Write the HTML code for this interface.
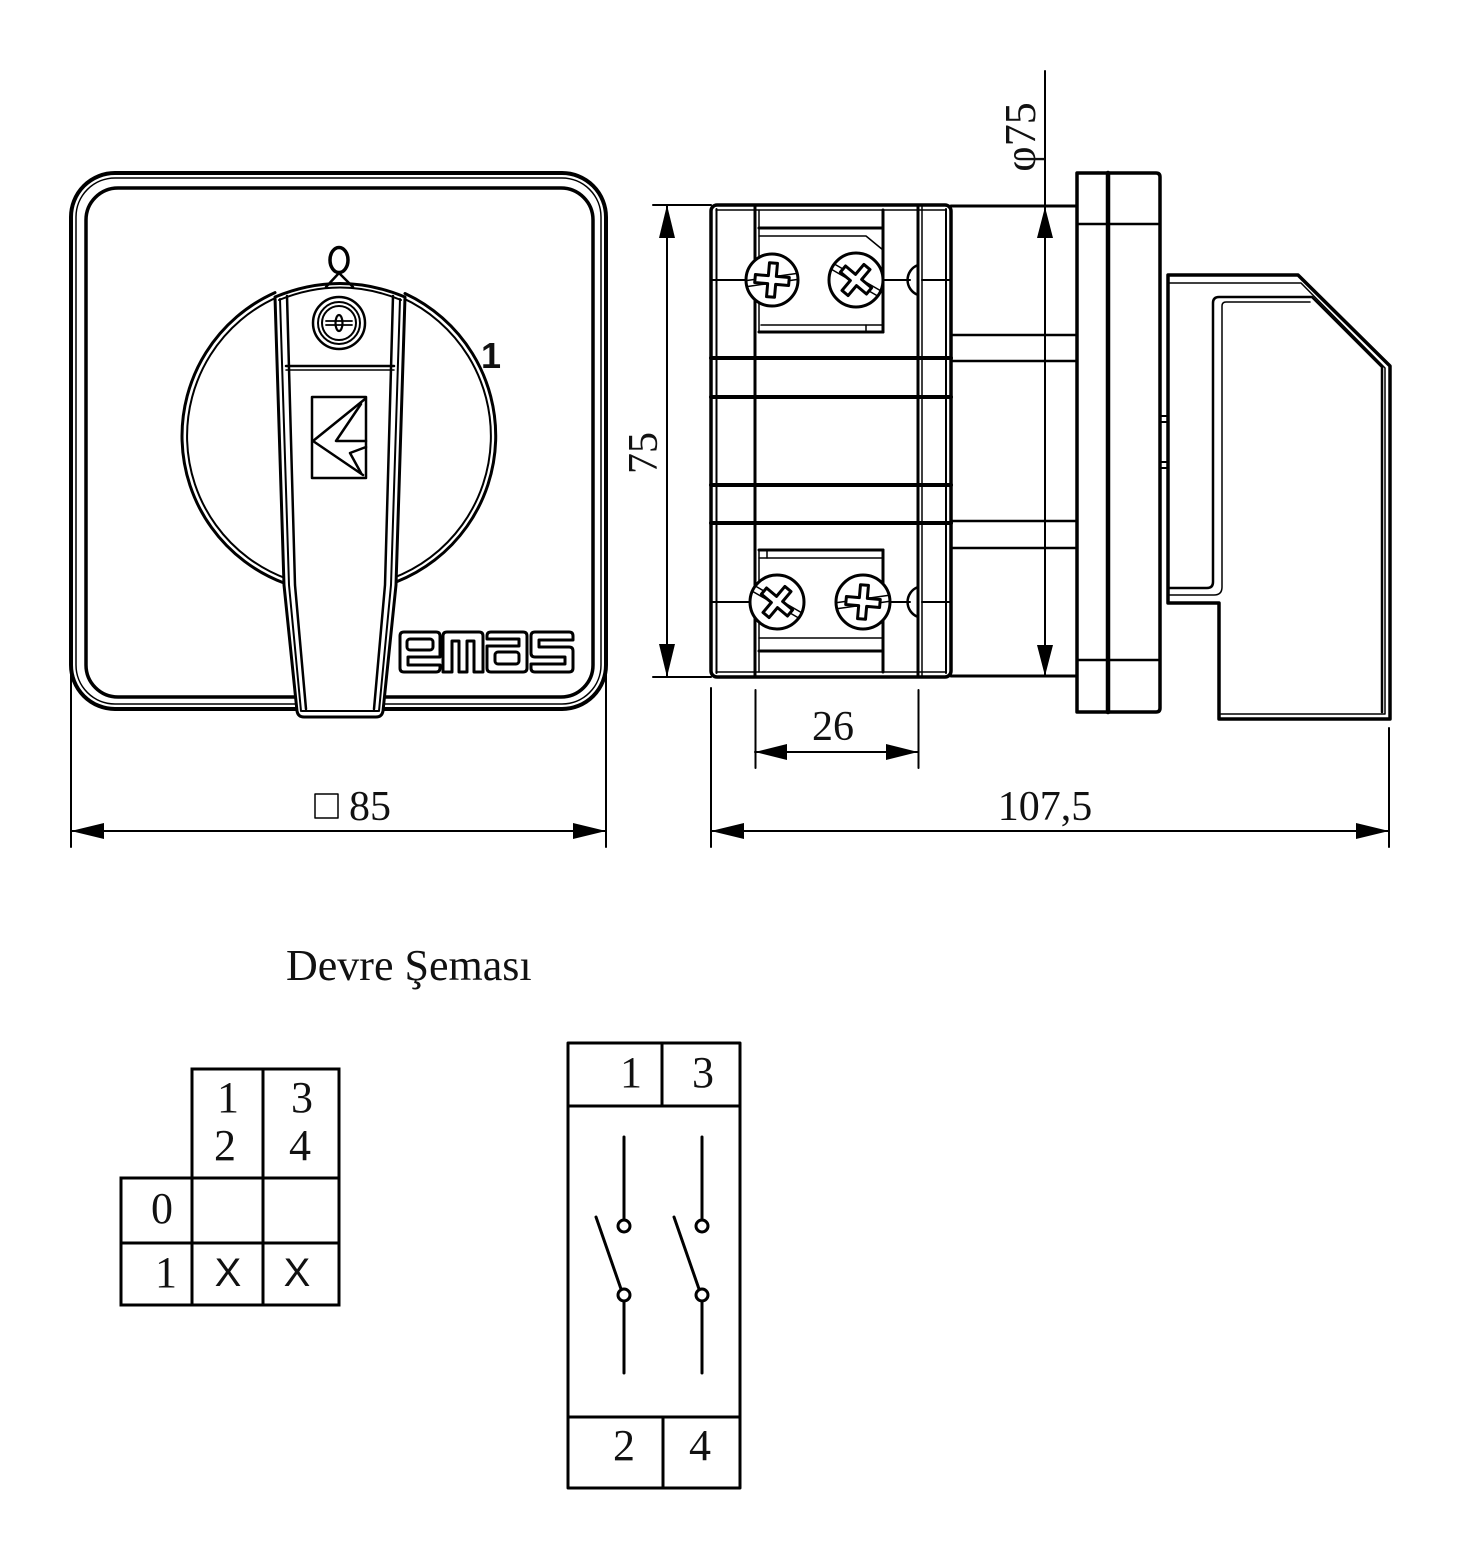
<!DOCTYPE html>
<html><head><meta charset="utf-8">
<style>
html,body{margin:0;padding:0;background:#fff;}
svg{display:block;}
</style></head><body>
<svg width="1461" height="1551" viewBox="0 0 1461 1551" xmlns="http://www.w3.org/2000/svg">
<rect width="1461" height="1551" fill="#fff"/>
<g fill="none" stroke="#000" stroke-linejoin="round" stroke-linecap="round">

<!-- ===== FRONT VIEW ===== -->
<rect x="71" y="173" width="535" height="536" rx="44" stroke-width="4"/>
<rect x="76" y="178" width="525" height="526" rx="39" stroke-width="1.5"/>
<rect x="86" y="188" width="507" height="509" rx="32" stroke-width="3.5"/>

<!-- knob circle arcs -->
<path d="M275,292.6 A157,157 0 0 0 284,583" stroke-width="3"/>
<path d="M405,293.5 A157,157 0 0 1 396,582" stroke-width="3"/>
<path d="M278,296.8 A152,152 0 0 0 287,578.8" stroke-width="2"/>
<path d="M402,297.7 A152,152 0 0 1 392,578.4" stroke-width="2"/>

<!-- handle -->
<path d="M275,297 Q340,270 405,297 L396,585 L383,711 Q382,717 376,717 L304,717 Q298,717 297,711 L284,585 Z" fill="#fff" stroke-width="3"/>
<path d="M279,300 Q340,275 401,300" stroke-width="2"/>
<path d="M280,299 L289,585 L301,711" stroke-width="2"/>
<path d="M287,296 L295,585 L306,709" stroke-width="2.5"/>
<path d="M400,299 L391,585 L379,711" stroke-width="2"/>
<path d="M393,296 L385,585 L374,709" stroke-width="2.5"/>
<line x1="302" y1="711" x2="378" y2="711" stroke-width="2"/>
<line x1="286" y1="366" x2="394" y2="366" stroke-width="2.5"/>
<line x1="286" y1="370" x2="394" y2="370" stroke-width="1.5"/>

<!-- 0 marker -->
<path d="M326,287 L339,273 L353,287" stroke-width="2.5"/>
<ellipse cx="339" cy="260" rx="9" ry="12.5" stroke-width="3.5"/>

<!-- screw on knob -->
<circle cx="339" cy="323" r="26" stroke-width="2.5"/>
<circle cx="339" cy="323" r="21" stroke-width="2"/>
<circle cx="339" cy="323" r="17" stroke-width="2"/>
<line x1="326" y1="321" x2="352" y2="321" stroke-width="1.8"/>
<line x1="326" y1="325" x2="352" y2="325" stroke-width="1.8"/>
<ellipse cx="339" cy="323" rx="3.5" ry="8" stroke-width="2.2"/>

<!-- logo on handle -->
<rect x="312" y="397" width="54" height="81" stroke-width="2.5"/>
<path d="M365,399 L313,441 L363,475" stroke-width="2.5"/>
<path d="M361,404 L336,441 H366" stroke-width="2.5"/>
<path d="M366,447 L350,453 L361,473" stroke-width="2.5"/>

<!-- emas -->
<g stroke-width="3">
<path d="M440,665 V668 Q440,672 436,672 H404 Q400,672 400,668 V636 Q400,632 404,632 H436 Q440,632 440,636 V657 H408 V665 Z"/>
<rect x="407" y="639" width="26" height="11" rx="3"/>
<path d="M443,672 V636 Q443,632 447,632 H479 Q483,632 483,636 V672 H474 V641 H467 V672 H459 V641 H452 V672 Z"/>
<path d="M487,646 V668 Q487,672 491,672 H523 Q527,672 527,668 V636 Q527,632 523,632 H491 Q487,632 487,636 V639 H519 V646 Z"/>
<rect x="495" y="652" width="24" height="12" rx="3"/>
<path d="M531,636 Q531,632 535,632 H569 Q573,632 573,636 V640 H539 V647 H569 Q573,647 573,651 V668 Q573,672 569,672 H535 Q531,672 531,668 V664 H565 V657 H535 Q531,657 531,653 Z"/>
</g>

<!-- □85 dimension -->
<line x1="71" y1="672" x2="71" y2="847" stroke-width="2"/>
<line x1="606" y1="672" x2="606" y2="847" stroke-width="2"/>
<line x1="71" y1="831" x2="606" y2="831" stroke-width="2"/>
<rect x="315" y="794" width="23" height="24" stroke-width="1.5"/>

<!-- ===== SIDE VIEW ===== -->
<rect x="711" y="205" width="240" height="472" rx="6" stroke-width="3.5"/>
<line x1="716.5" y1="209" x2="716.5" y2="673" stroke-width="2"/>
<line x1="755" y1="205" x2="755" y2="677" stroke-width="3"/>
<line x1="918" y1="205" x2="918" y2="677" stroke-width="3"/>
<line x1="922" y1="205" x2="922" y2="677" stroke-width="1.5"/>
<line x1="946" y1="209" x2="946" y2="673" stroke-width="2"/>
<g stroke-width="4">
<line x1="711" y1="358" x2="951" y2="358"/>
<line x1="711" y1="397" x2="951" y2="397"/>
<line x1="711" y1="485" x2="951" y2="485"/>
<line x1="711" y1="523" x2="951" y2="523"/>
</g>
<line x1="716" y1="210" x2="946" y2="210" stroke-width="1.5"/>
<line x1="716" y1="672" x2="946" y2="672" stroke-width="1.5"/>

<!-- top plate -->
<line x1="759" y1="210" x2="759" y2="332" stroke-width="1.5"/>
<line x1="759" y1="228" x2="883" y2="228" stroke-width="3"/>
<path d="M759,236 H866 L883,250" stroke-width="1.5"/>
<line x1="883" y1="210" x2="883" y2="332" stroke-width="3"/>
<line x1="759" y1="332" x2="883" y2="332" stroke-width="3"/>
<line x1="761" y1="325" x2="883" y2="325" stroke-width="1.5"/>
<line x1="866" y1="325" x2="866" y2="332" stroke-width="1.5"/>
<line x1="711" y1="280" x2="746" y2="280" stroke-width="2"/>
<line x1="883" y1="280" x2="910" y2="280" stroke-width="2"/>
<line x1="922" y1="280" x2="951" y2="280" stroke-width="2"/>
<path d="M918,265 A16,16 0 0 0 918,295" stroke-width="2.5"/>

<!-- bottom plate -->
<line x1="759" y1="550" x2="759" y2="672" stroke-width="1.5"/>
<line x1="759" y1="550" x2="883" y2="550" stroke-width="3"/>
<line x1="759" y1="558" x2="883" y2="558" stroke-width="1.5"/>
<line x1="767" y1="550" x2="767" y2="558" stroke-width="1.5"/>
<line x1="883" y1="550" x2="883" y2="672" stroke-width="3"/>
<line x1="759" y1="638" x2="883" y2="638" stroke-width="1.5"/>
<line x1="759" y1="651" x2="883" y2="651" stroke-width="3"/>
<line x1="711" y1="602" x2="750" y2="602" stroke-width="2"/>
<line x1="890" y1="602" x2="910" y2="602" stroke-width="2"/>
<line x1="922" y1="602" x2="951" y2="602" stroke-width="2"/>
<path d="M918,587 A16,16 0 0 0 918,617" stroke-width="2.5"/>

<!-- screws -->
<g transform="translate(772,280)">
<circle r="26" fill="#fff" stroke-width="3"/>
<g transform="rotate(-8)"><line x1="-25" y1="-3" x2="25" y2="-3" stroke-width="1.5"/><line x1="-25" y1="3" x2="25" y2="3" stroke-width="1.5"/></g>
<path transform="rotate(5)" d="M-4,-17 H4 V-4 H17 V4 H4 V17 H-4 V4 H-17 V-4 H-4 Z" fill="#fff" stroke-width="3"/>
</g>
<g transform="translate(856,280)">
<circle r="27" fill="#fff" stroke-width="3"/>
<g transform="rotate(30)"><line x1="-26" y1="-3" x2="26" y2="-3" stroke-width="1.5"/><line x1="-26" y1="3" x2="26" y2="3" stroke-width="1.5"/></g>
<path transform="rotate(40)" d="M-4,-17 H4 V-4 H17 V4 H4 V17 H-4 V4 H-17 V-4 H-4 Z" fill="#fff" stroke-width="3"/>
</g>
<g transform="translate(777,602)">
<circle r="27" fill="#fff" stroke-width="3"/>
<g transform="rotate(30)"><line x1="-26" y1="-3" x2="26" y2="-3" stroke-width="1.5"/><line x1="-26" y1="3" x2="26" y2="3" stroke-width="1.5"/></g>
<path transform="rotate(40)" d="M-4,-17 H4 V-4 H17 V4 H4 V17 H-4 V4 H-17 V-4 H-4 Z" fill="#fff" stroke-width="3"/>
</g>
<g transform="translate(863,602)">
<circle r="27" fill="#fff" stroke-width="3"/>
<g transform="rotate(-8)"><line x1="-26" y1="-3" x2="26" y2="-3" stroke-width="1.5"/><line x1="-26" y1="3" x2="26" y2="3" stroke-width="1.5"/></g>
<path transform="rotate(5)" d="M-4,-17 H4 V-4 H17 V4 H4 V17 H-4 V4 H-17 V-4 H-4 Z" fill="#fff" stroke-width="3"/>
</g>

<!-- middle block -->
<line x1="951" y1="206" x2="1077" y2="206" stroke-width="3"/>
<line x1="951" y1="676" x2="1077" y2="676" stroke-width="3"/>
<g stroke-width="2.5">
<line x1="951" y1="335" x2="1077" y2="335"/>
<line x1="951" y1="361" x2="1077" y2="361"/>
<line x1="951" y1="521" x2="1077" y2="521"/>
<line x1="951" y1="548" x2="1077" y2="548"/>
</g>

<!-- flange -->
<path d="M1077,173 H1156 Q1160,173 1160,177 V708 Q1160,712 1156,712 H1077 Z" stroke-width="3.5"/>
<line x1="1108" y1="173" x2="1108" y2="712" stroke-width="4.5"/>
<line x1="1077" y1="224" x2="1158" y2="224" stroke-width="2.5"/>
<line x1="1077" y1="660" x2="1158" y2="660" stroke-width="2.5"/>

<!-- stubs -->
<g stroke-width="2">
<line x1="1160" y1="416" x2="1168" y2="416"/>
<line x1="1160" y1="422" x2="1168" y2="422"/>
<line x1="1160" y1="462" x2="1168" y2="462"/>
<line x1="1160" y1="468" x2="1168" y2="468"/>
</g>

<!-- side handle -->
<path d="M1168,275 H1298 L1390,366 V719 H1219 V603 H1168 Z" stroke-width="3.5"/>
<path d="M1168,283 H1301 L1385,368 V714 H1221" stroke-width="1.5"/>
<path d="M1168,588 H1207 Q1213,588 1213,582 V303 Q1213,297 1219,297 H1312 L1382,367 V712" stroke-width="2.5"/>
<path d="M1168,595 H1214 Q1222,595 1222,587 V306 Q1222,302 1226,302 H1310" stroke-width="1.5"/>

<!-- 75 dimension -->
<line x1="653" y1="205" x2="711" y2="205" stroke-width="2"/>
<line x1="653" y1="677" x2="711" y2="677" stroke-width="2"/>
<line x1="667" y1="205" x2="667" y2="677" stroke-width="2"/>

<!-- ø75 dimension -->
<line x1="1045" y1="71" x2="1045" y2="676" stroke-width="2"/>

<!-- 26 dimension -->
<line x1="755.5" y1="690" x2="755.5" y2="768" stroke-width="2"/>
<line x1="918.5" y1="690" x2="918.5" y2="768" stroke-width="2"/>
<line x1="755" y1="752" x2="918" y2="752" stroke-width="2"/>

<!-- 107,5 dimension -->
<line x1="711" y1="688" x2="711" y2="847" stroke-width="2"/>
<line x1="1389" y1="728" x2="1389" y2="847" stroke-width="2"/>
<line x1="711" y1="831" x2="1389" y2="831" stroke-width="2"/>

<!-- ===== TABLE 1 ===== -->
<g stroke-width="3" stroke-linecap="square">
<line x1="192" y1="1069" x2="339" y2="1069"/>
<line x1="121" y1="1178" x2="339" y2="1178"/>
<line x1="121" y1="1243" x2="339" y2="1243"/>
<line x1="121" y1="1305" x2="339" y2="1305"/>
<line x1="121" y1="1178" x2="121" y2="1305"/>
<line x1="192" y1="1069" x2="192" y2="1305"/>
<line x1="263" y1="1069" x2="263" y2="1305"/>
<line x1="339" y1="1069" x2="339" y2="1305"/>
</g>

<!-- ===== TABLE 2 ===== -->
<g stroke-width="3" stroke-linecap="square">
<rect x="568" y="1043" width="172" height="445"/>
<line x1="568" y1="1106" x2="740" y2="1106"/>
<line x1="662" y1="1043" x2="662" y2="1106"/>
<line x1="568" y1="1417" x2="740" y2="1417"/>
<line x1="663" y1="1417" x2="663" y2="1488"/>
</g>
<g stroke-width="3">
<line x1="624" y1="1137" x2="624" y2="1220"/>
<circle cx="624" cy="1226" r="6"/>
<circle cx="624" cy="1295" r="6"/>
<line x1="624" y1="1301" x2="624" y2="1373"/>
<line x1="596" y1="1217" x2="621" y2="1289"/>
<line x1="702" y1="1137" x2="702" y2="1220"/>
<circle cx="702" cy="1226" r="6"/>
<circle cx="702" cy="1295" r="6"/>
<line x1="702" y1="1301" x2="702" y2="1373"/>
<line x1="674" y1="1217" x2="699" y2="1289"/>
</g>
</g>

<!-- arrowheads -->
<g fill="#000" stroke="none">
<polygon points="71,831 104,823 104,839"/>
<polygon points="606,831 573,823 573,839"/>
<polygon points="667,205 659,238 675,238"/>
<polygon points="667,677 659,644 675,644"/>
<polygon points="1045,207 1037,238 1053,238"/>
<polygon points="1045,676 1037,645 1053,645"/>
<polygon points="755,752 787,744 787,760"/>
<polygon points="918,752 886,744 886,760"/>
<polygon points="711,831 744,823 744,839"/>
<polygon points="1389,831 1356,823 1356,839"/>
</g>

<!-- text -->
<g font-family="'Liberation Serif', serif" fill="#111" font-size="42">
<text x="349" y="820">85</text>
<text x="833" y="740" text-anchor="middle">26</text>
<text x="1045" y="820" text-anchor="middle">107,5</text>
<text transform="translate(657,453) rotate(-90)" text-anchor="middle">75</text>
<text transform="translate(1035,137) rotate(-90)" text-anchor="middle" font-size="44">φ75</text>
<text x="286" y="980" font-size="44">Devre Şeması</text>
<g font-size="44" text-anchor="middle">
<text x="228" y="1112">1</text>
<text x="225" y="1160">2</text>
<text x="302" y="1112">3</text>
<text x="300" y="1160">4</text>
<text x="162" y="1223">0</text>
<text x="166" y="1287">1</text>
<text x="631" y="1087">1</text>
<text x="703" y="1087">3</text>
<text x="624" y="1460">2</text>
<text x="700" y="1460">4</text>
</g>
</g>
<g font-family="'Liberation Sans', sans-serif" fill="#111" text-anchor="middle">
<text x="228" y="1286" font-size="40">X</text>
<text x="297" y="1286" font-size="40">X</text>
<text x="491" y="368" font-size="36" font-weight="bold">1</text>
</g>
</svg>
</body></html>
